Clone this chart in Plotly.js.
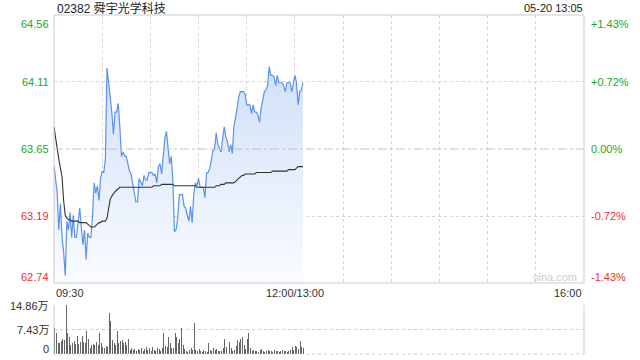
<!DOCTYPE html>
<html>
<head>
<meta charset="utf-8">
<script src="https://cdn.plot.ly/plotly-3.0.1.min.js"></script>
<style>html,body{margin:0;padding:0;background:#fff;}#chart{width:640px;height:360px;}</style>
</head>
<body>
<div id="chart"></div>
<script>
// ---- data ----
const stockTitle = "02382 舜宇光学科技";
const stampText = "05-20 13:05";
const prevClose = 63.65;
const price = [
63.54,63.42,63.35,63.10,63.28,63.05,62.95,62.79,63.16,63.10,
63.22,63.05,63.20,63.05,63.05,63.15,63.25,63.12,63.00,63.10,
62.90,63.08,63.05,63.05,63.20,63.42,63.35,63.40,63.30,63.45,
63.50,63.49,63.58,64.20,64.10,63.97,63.90,63.75,63.90,63.90,
63.96,63.80,63.60,63.63,63.60,63.60,63.55,63.50,63.48,63.40,
63.35,63.29,63.29,63.45,63.42,63.40,63.47,63.44,63.44,63.49,
63.49,63.49,63.47,63.48,63.42,63.53,63.55,63.48,63.60,63.72,
63.77,63.66,63.55,63.60,63.44,63.09,63.10,63.18,63.34,63.34,
63.34,63.26,63.25,63.20,63.16,63.26,63.15,63.34,63.42,63.40,
63.45,63.39,63.39,63.39,63.32,63.49,63.49,63.52,63.58,63.64,
63.65,63.76,63.68,63.65,63.63,63.72,63.80,63.73,63.70,63.63,
63.68,63.62,63.80,63.86,63.94,64.00,64.04,64.04,64.04,64.02,
63.95,63.95,63.95,63.89,63.95,63.90,63.90,63.88,63.83,63.93,
64.00,64.04,64.05,64.08,64.21,64.15,64.15,64.14,64.08,64.15,
64.10,64.10,64.10,64.08,64.04,64.10,64.10,64.10,64.04,64.10,
64.15,64.10,63.95,64.04,64.05,64.10
];
const avgPrice = [
63.80,63.72,63.65,63.58,63.52,63.46,63.30,63.20,63.18,63.17,
63.17,63.16,63.16,63.16,63.16,63.16,63.15,63.15,63.15,63.15,
63.15,63.14,63.13,63.12,63.12,63.12,63.13,63.14,63.15,63.15,
63.16,63.16,63.16,63.18,63.26,63.31,63.33,63.35,63.36,63.37,
63.38,63.39,63.39,63.39,63.39,63.39,63.39,63.39,63.39,63.39,
63.39,63.39,63.39,63.39,63.39,63.39,63.39,63.39,63.39,63.39,
63.39,63.39,63.40,63.40,63.40,63.40,63.40,63.41,63.41,63.41,
63.41,63.41,63.41,63.41,63.41,63.40,63.40,63.40,63.40,63.40,
63.40,63.40,63.40,63.40,63.40,63.40,63.40,63.40,63.40,63.39,
63.39,63.39,63.39,63.39,63.39,63.39,63.39,63.39,63.39,63.39,
63.39,63.40,63.40,63.40,63.41,63.41,63.41,63.42,63.42,63.42,
63.42,63.42,63.42,63.43,63.44,63.45,63.46,63.47,63.47,63.48,
63.48,63.48,63.48,63.48,63.48,63.48,63.49,63.49,63.49,63.49,
63.49,63.49,63.49,63.49,63.49,63.49,63.50,63.50,63.50,63.50,
63.50,63.50,63.50,63.50,63.50,63.50,63.51,63.51,63.51,63.51,
63.51,63.52,63.53,63.53,63.53,63.53
];
// volume in 万
const volume = [
7.8,6.3,3.2,3.4,4.0,4.4,4.2,14.9,6.5,5.3,
2.7,3.4,3.9,3.0,5.5,2.9,3.7,5.5,3.6,3.2,
7.1,4.7,1.7,2.7,2.9,2.8,3.7,2.7,6.5,3.2,
2.2,1.7,2.4,2.0,12.5,10.1,4.2,3.2,2.7,7.1,
3.2,3.9,4.2,3.2,3.5,2.7,4.7,1.2,1.7,1.2,
1.4,1.0,1.6,1.2,1.7,1.0,1.4,2.2,1.2,1.7,
1.0,2.2,1.2,1.0,1.8,1.4,1.0,1.7,6.5,2.4,
2.2,5.3,3.2,1.7,1.7,6.3,5.1,3.2,4.7,7.8,
2.7,1.4,1.0,0.7,1.2,1.7,1.2,9.5,1.2,1.0,
1.4,1.0,0.7,1.2,0.9,0.7,3.2,1.2,1.0,1.7,
1.2,1.4,1.0,0.8,1.0,1.7,4.7,2.2,3.2,3.7,
1.7,1.0,1.2,2.4,4.2,3.7,4.7,5.3,2.7,1.4,
4.4,6.3,1.7,1.0,1.2,0.8,1.0,0.7,1.2,1.4,
1.0,0.7,1.0,1.2,0.8,1.0,0.7,1.2,0.8,1.0,
0.7,1.0,1.2,0.8,1.0,0.7,1.0,1.2,2.0,1.2,
2.4,2.2,1.4,3.9,2.0,1.7
];
const priceTicks = [64.56, 64.11, 63.65, 63.19, 62.74];
const pctTicks = ["+1.43%", "+0.72%", "0.00%", "-0.72%", "-1.43%"];
const volTickVals = [14.86, 7.43, 0];
const volTickText = ["14.86万", "7.43万", "0"];
const timeTickPos = [0, 150, 330];
const timeTickText = ["09:30", "12:00/13:00", "16:00"];
const gridMinutes = [0,30,60,90,120,150,180,210,240,270,300,330];

// ---- layout helpers ----
const W = 640, H = 360;
const px = v => v / W;
const py = v => 1 - v / H;
const X0 = 54, X1 = 584, YT = 15, YB = 283, VT = 305, VB = 354;
const GREEN = "#22a822", RED = "#ee3030", TXT = "#333333";
const FONT = "Arial, 'Liberation Sans', 'Noto Sans CJK SC', sans-serif";

const minutes = price.map((_, i) => i);

const traces = [
  {
    x: minutes, y: price, type: "scatter", mode: "lines",
    line: {color: "#5a93ee", width: 1.2},
    fill: "tozeroy",
    fillgradient: {type: "vertical", start: 62.74, stop: 64.21,
      colorscale: [[0, "rgba(250,252,255,1)"], [1, "rgba(208,224,248,1)"]]},
    xaxis: "x", yaxis: "y", hoverinfo: "skip"
  },
  {
    x: minutes, y: avgPrice, type: "scatter", mode: "lines",
    line: {color: "#333333", width: 1.1},
    xaxis: "x", yaxis: "y", hoverinfo: "skip"
  },
  {
    x: minutes, y: volume, type: "bar", width: 0.62,
    marker: {color: "#666666", line: {width: 0}},
    xaxis: "x2", yaxis: "y2", hoverinfo: "skip"
  }
];

const annotations = [];
annotations.push({xref: "paper", yref: "paper", x: px(55), y: py(8), text: stockTitle,
  showarrow: false, xanchor: "left", yanchor: "middle", font: {family: FONT, size: 12, color: "#222"}});
annotations.push({xref: "paper", yref: "paper", x: px(585), y: py(8), text: stampText,
  showarrow: false, xanchor: "right", yanchor: "middle", font: {family: FONT, size: 11, color: "#222"}});
const labelY = [24, 82, 149, 216, 277];
priceTicks.forEach((v, i) => {
  const col = v >= prevClose ? GREEN : RED;
  annotations.push({xref: "paper", yref: "paper", x: px(51), y: py(labelY[i]),
    text: v.toFixed(2), showarrow: false, xanchor: "right", yanchor: "middle",
    font: {family: FONT, size: 11, color: col}});
  annotations.push({xref: "paper", yref: "paper", x: px(589), y: py(labelY[i]),
    text: pctTicks[i], showarrow: false, xanchor: "left", yanchor: "middle",
    font: {family: FONT, size: 11, color: col}});
});
const timeAnchors = ["left", "center", "right"];
timeTickPos.forEach((m, i) => {
  annotations.push({xref: "x", yref: "paper", x: m, y: py(293), text: timeTickText[i],
    showarrow: false, xanchor: timeAnchors[i], yanchor: "middle",
    font: {family: FONT, size: 11, color: TXT}});
});
const volLabelY = [306, 330, 349];
volTickVals.forEach((v, i) => {
  annotations.push({xref: "paper", yref: "paper", x: px(51), y: py(volLabelY[i]),
    text: volTickText[i], showarrow: false, xanchor: "right", yanchor: "middle",
    font: {family: FONT, size: 11, color: TXT}});
});
annotations.push({xref: "paper", yref: "paper", x: px(555), y: py(277), text: "sina.com",
  showarrow: false, xanchor: "center", yanchor: "middle",
  font: {family: FONT, size: 11, color: "#cccccc"}});

const shapes = [
  {type: "line", xref: "x", yref: "y", x0: 0, x1: 330, y0: prevClose, y1: prevClose,
   line: {color: "#c4c4c4", width: 1, dash: "dashdot"}},
  {type: "rect", xref: "paper", yref: "paper", x0: px(X0), x1: px(X1), y0: py(YB), y1: py(YT),
   line: {color: "#cccccc", width: 1}},
  {type: "line", xref: "paper", yref: "paper", x0: px(X0), x1: px(X0), y0: py(VB), y1: py(VT),
   line: {color: "#cccccc", width: 1}},
  {type: "line", xref: "paper", yref: "paper", x0: px(X1), x1: px(X1), y0: py(VB), y1: py(VT),
   line: {color: "#cccccc", width: 1}},
  {type: "line", xref: "paper", yref: "paper", x0: px(X0), x1: px(X1), y0: py(VB), y1: py(VB),
   line: {color: "#cccccc", width: 1, dash: "dot"}}
];

const layout = {
  width: W, height: H,
  margin: {l: 0, r: 0, t: 0, b: 0},
  paper_bgcolor: "#ffffff", plot_bgcolor: "rgba(0,0,0,0)",
  showlegend: false, bargap: 0,
  xaxis: {domain: [px(X0), px(X1)], range: [0, 330], tickvals: gridMinutes,
    showticklabels: false, ticks: "", showgrid: true, gridcolor: "#d4d4d4", griddash: "dot",
    gridwidth: 1, zeroline: false, showline: false, fixedrange: true},
  yaxis: {domain: [py(YB), py(YT)], range: [62.74, 64.56], tickvals: [64.11, 63.19],
    showticklabels: false, ticks: "", showgrid: true, gridcolor: "#d4d4d4", griddash: "dot",
    zeroline: false, showline: false, fixedrange: true},
  xaxis2: {domain: [px(X0), px(X1)], range: [-0.5, 330], anchor: "y2",
    showticklabels: false, ticks: "", showgrid: false, zeroline: false, showline: false},
  yaxis2: {domain: [py(VB), py(VT)], range: [0, 14.86], anchor: "x2", tickvals: [7.43, 14.86],
    showticklabels: false, ticks: "", showgrid: true, gridcolor: "#cccccc", griddash: "dot",
    zeroline: false, showline: false},
  annotations: annotations,
  shapes: shapes
};

Plotly.newPlot("chart", traces, layout, {staticPlot: true, displayModeBar: false});
</script>
</body>
</html>
